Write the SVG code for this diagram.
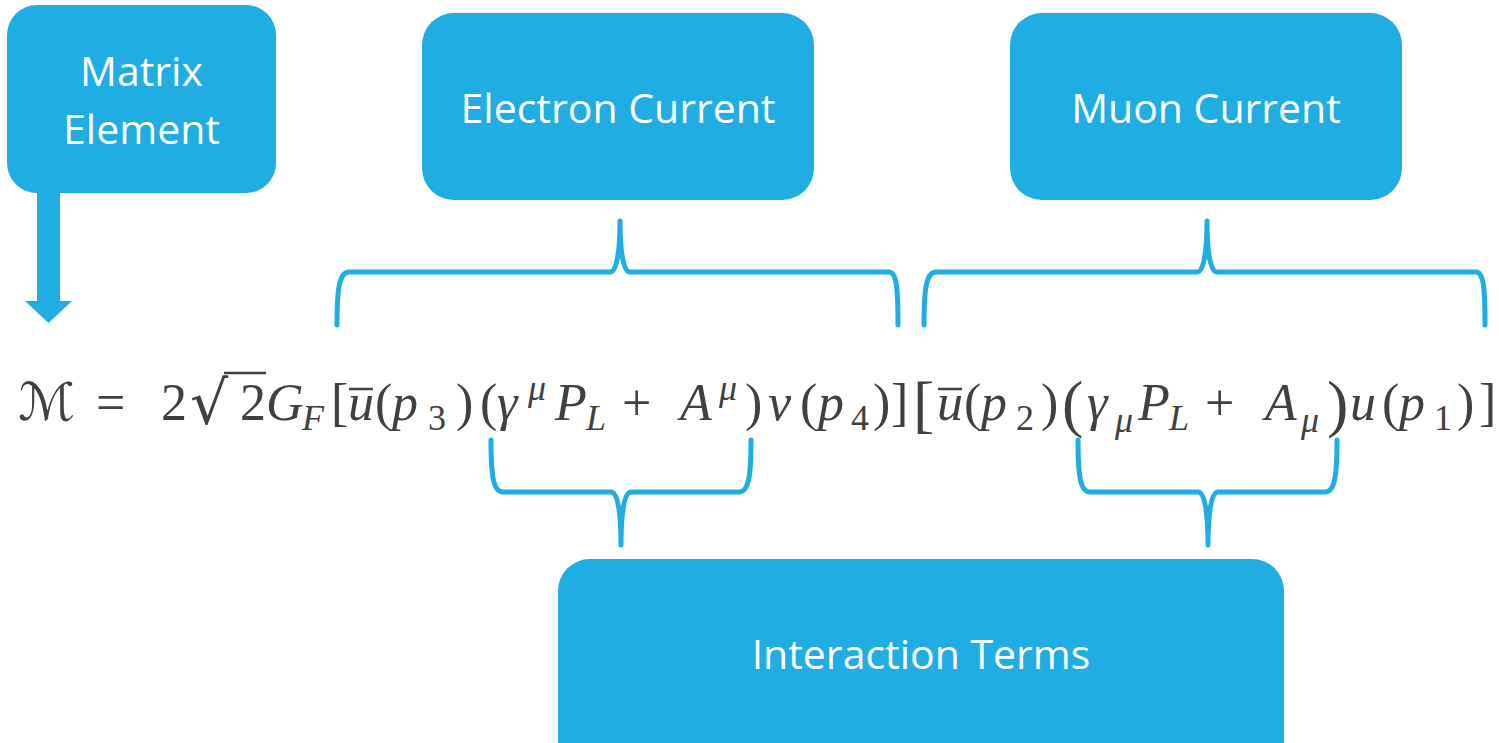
<svg xmlns="http://www.w3.org/2000/svg" width="1499" height="743" viewBox="0 0 1499 743">
<style>
.box{fill:#1FADE3;}
.lbl{font-family:"Open Sans","Liberation Sans",sans-serif;font-size:41px;fill:#ffffff;text-anchor:middle;}
.brace{fill:none;stroke:#1FADE3;stroke-width:5;stroke-linecap:round;stroke-linejoin:round;}
.eq{font-family:"Liberation Serif","DejaVu Serif",serif;font-size:52px;fill:#404040;}
.it{font-style:italic;}
.sm{font-size:36px;}
.big{font-size:64px;}
.bar{stroke:#404040;stroke-width:2.5;}
</style>
<rect width="1499" height="743" fill="#ffffff"/>
<g id="connectors">
  <polygon class="box" points="37,190 60,190 60,301 72,301 48.5,323 25,301 37,301"/>
  <path class="brace" d="M337,325 C337,290 339,272 349,272 L610,272 C617,272 620,250 620,221 C620,250 623,272 630,272 L889,272 C897,272 898,290 898,325"/>
  <path class="brace" d="M924,325 C924,290 926,272 936,272 L1197,272 C1204,272 1207,250 1207,221 C1207,250 1210,272 1217,272 L1476,272 C1484,272 1485,290 1485,325"/>
  <path class="brace" d="M491,440 C491,475 493,492 503,492 L611,492 C618,492 621,514 621,545 C621,514 624,492 631,492 L739,492 C749,492 751,475 751,440"/>
  <path class="brace" d="M1078,440 C1078,475 1080,492 1090,492 L1198,492 C1205,492 1208,514 1208,545 C1208,514 1211,492 1218,492 L1325,492 C1335,492 1337,475 1337,440"/>
</g>
<g id="matrix-element">
  <rect class="box" x="7" y="5" width="269" height="188" rx="30" ry="30"/>
  <text class="lbl" x="141.5" y="86">Matrix</text>
  <text class="lbl" x="141.5" y="144">Element</text>
</g>
<g id="electron-current">
  <rect class="box" x="422" y="13" width="392" height="187" rx="32" ry="32"/>
  <text class="lbl" x="618" y="123">Electron Current</text>
</g>
<g id="muon-current">
  <rect class="box" x="1010" y="13" width="392" height="187" rx="32" ry="32"/>
  <text class="lbl" x="1206" y="123">Muon Current</text>
</g>
<g id="interaction-terms">
  <rect class="box" x="558" y="559" width="726" height="220" rx="32" ry="32"/>
  <text class="lbl" x="921" y="669">Interaction Terms</text>
</g>
<g id="equation">
  <text class="eq" y="420">
    <tspan x="18" style="font-family:'DejaVu Serif','DejaVu Sans',serif" textLength="57" lengthAdjust="spacingAndGlyphs">ℳ</tspan>
    <tspan x="96">=</tspan>
    <tspan x="161">2</tspan>
    <tspan x="190" y="424" style="font-family:'DejaVu Serif',serif;font-size:60px">√</tspan>
    <tspan x="240" y="420">2</tspan>
    <tspan x="266" class="it">G</tspan>
    <tspan x="302" y="430" class="it sm">F</tspan>
    <tspan x="331" y="420">[</tspan>
    <tspan x="348" class="it">u</tspan>
    <tspan x="375">(</tspan>
    <tspan x="392" class="it">p</tspan>
    <tspan x="428" y="430" class="sm">3</tspan>
    <tspan x="456" y="420">)</tspan>
    <tspan x="480">(</tspan>
    <tspan x="497" class="it">γ</tspan>
    <tspan x="528" y="400" class="it sm">μ</tspan>
    <tspan x="555" y="420" class="it">P</tspan>
    <tspan x="586" y="430" class="it sm">L</tspan>
    <tspan x="622" y="420">+</tspan>
    <tspan x="680" class="it">A</tspan>
    <tspan x="719" y="400" class="it sm">μ</tspan>
    <tspan x="745" y="420">)</tspan>
    <tspan x="768" class="it">v</tspan>
    <tspan x="800">(</tspan>
    <tspan x="818" class="it">p</tspan>
    <tspan x="851" y="430" class="sm">4</tspan>
    <tspan x="873" y="420">)</tspan>
    <tspan x="891">]</tspan>
    <tspan x="913" y="425" class="big">[</tspan>
    <tspan x="937" y="420" class="it">u</tspan>
    <tspan x="964">(</tspan>
    <tspan x="981" class="it">p</tspan>
    <tspan x="1016" y="430" class="sm">2</tspan>
    <tspan x="1041" y="420">)</tspan>
    <tspan x="1062" y="425" class="big">(</tspan>
    <tspan x="1087" y="420" class="it">γ</tspan>
    <tspan x="1115" y="432" class="it sm">μ</tspan>
    <tspan x="1138" y="420" class="it">P</tspan>
    <tspan x="1169" y="430" class="it sm">L</tspan>
    <tspan x="1205" y="420">+</tspan>
    <tspan x="1265" class="it">A</tspan>
    <tspan x="1301" y="432" class="it sm">μ</tspan>
    <tspan x="1327" y="425" class="big">)</tspan>
    <tspan x="1350" y="420" class="it">u</tspan>
    <tspan x="1382">(</tspan>
    <tspan x="1399" class="it">p</tspan>
    <tspan x="1434" y="430" class="sm">1</tspan>
    <tspan x="1457" y="420">)</tspan>
    <tspan x="1479">]</tspan>
  </text>
  <line class="bar" x1="224" y1="373" x2="266" y2="373"/>
  <line class="bar" x1="349" y1="389" x2="373" y2="389"/>
  <line class="bar" x1="938" y1="389" x2="962" y2="389"/>
</g>
</svg>
